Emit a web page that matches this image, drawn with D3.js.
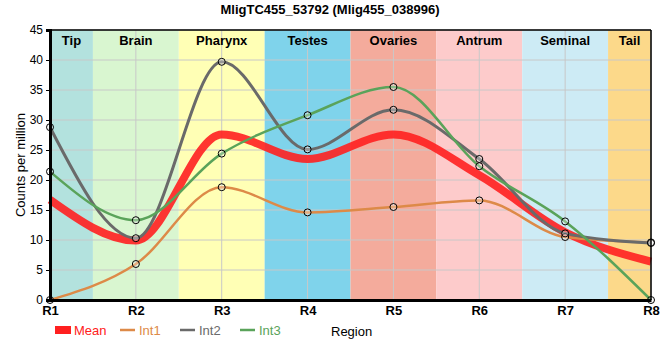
<!DOCTYPE html>
<html>
<head>
<meta charset="utf-8">
<script src="https://cdn.jsdelivr.net/npm/d3@7"></script>
<style>
  body { margin: 0; background: #fff; }
  svg { font-family: 'Liberation Sans', Arial, sans-serif; }
</style>
</head>
<body>
<svg width="660" height="360"></svg>
<script>
var regions = ['R1', 'R2', 'R3', 'R4', 'R5', 'R6', 'R7', 'R8'];
var tissues = ['Tip', 'Brain', 'Pharynx', 'Testes', 'Ovaries', 'Antrum', 'Seminal', 'Tail'];
var tissueColors = ['#b3e2de', '#d9f6d0', '#ffffb5', '#7fd3eb', '#f4ab9c', '#fdcbcb', '#cdebf5', '#fcd98a'];
var yTicks = [0, 5, 10, 15, 20, 25, 30, 35, 40, 45];

var mean = [16.7, 9.9, 27.6, 23.5, 27.6, 20.8, 11.3, 6.4];
var int1 = [0, 6.0, 18.8, 14.6, 15.5, 16.6, 10.5, 9.6];
var int2 = [28.8, 10.3, 39.7, 25.1, 31.7, 23.5, 11.1, 9.5];
var int3 = [21.4, 13.3, 24.4, 30.8, 35.5, 22.3, 13.1, 0];

var series = [
    {name: 'Mean', values: mean, color: '#ff2020', width: 8, opacity: 0.9, dots: false},
    {name: 'Int1', values: int1, color: '#dd8a48', width: 2.5, opacity: 1, dots: true},
    {name: 'Int2', values: int2, color: '#6a6a6a', width: 3, opacity: 1, dots: true},
    {name: 'Int3', values: int3, color: '#5aa35a', width: 2.5, opacity: 1, dots: true}
];

var plotLeft = 50, plotRight = 651, plotTop = 30, plotBottom = 300;
var svg = d3.select('svg');

var x = d3.scalePoint().domain(regions).range([plotLeft, plotRight]);
var y = d3.scaleLinear().domain([0, 45]).range([plotBottom, plotTop]);
var step = x.step();

function bandStart(i) { return Math.max(plotLeft, x(regions[i]) - step / 2); }
function bandEnd(i) { return Math.min(plotRight, x(regions[i]) + step / 2); }

// tissue bands
svg.selectAll('.band')
    .data(tissues)
    .enter().append('rect')
    .attr('class', 'band')
    .attr('x', function(d, i) { return bandStart(i); })
    .attr('y', plotTop)
    .attr('width', function(d, i) { return bandEnd(i) - bandStart(i); })
    .attr('height', plotBottom - plotTop)
    .attr('fill', function(d, i) { return tissueColors[i]; });

// grid
svg.selectAll('.hgrid')
    .data(yTicks)
    .enter().append('line')
    .attr('x1', plotLeft).attr('x2', plotRight)
    .attr('y1', function(d) { return y(d); })
    .attr('y2', function(d) { return y(d); })
    .attr('stroke', '#c8c8c8').attr('stroke-width', 1);

svg.selectAll('.vgrid')
    .data(regions)
    .enter().append('line')
    .attr('x1', function(d) { return x(d); })
    .attr('x2', function(d) { return x(d); })
    .attr('y1', plotTop).attr('y2', plotBottom)
    .attr('stroke', '#c8c8c8').attr('stroke-width', 1);

// band labels
svg.selectAll('.blabel')
    .data(tissues)
    .enter().append('text')
    .attr('x', function(d, i) { return (bandStart(i) + bandEnd(i)) / 2; })
    .attr('y', 45)
    .attr('text-anchor', 'middle')
    .style('font-size', '13px')
    .style('font-weight', 'bold')
    .text(function(d) { return d; });

// lines
var line = d3.line()
    .x(function(d, i) { return x(regions[i]); })
    .y(function(d) { return y(d); })
    .curve(d3.curveMonotoneX);

series.forEach(function(s) {
    svg.append('path')
        .attr('d', line(s.values))
        .attr('fill', 'none')
        .attr('stroke', s.color)
        .attr('stroke-width', s.width)
        .attr('stroke-opacity', s.opacity);
});

series.forEach(function(s) {
    if (!s.dots) return;
    svg.selectAll(null)
        .data(s.values)
        .enter().append('circle')
        .attr('cx', function(d, i) { return x(regions[i]); })
        .attr('cy', function(d) { return y(d); })
        .attr('r', 3.5)
        .attr('fill', 'rgba(255,255,255,0.3)')
        .attr('stroke', '#000')
        .attr('stroke-width', 1);
});

// frame
svg.append('line').attr('x1', plotLeft).attr('x2', plotRight).attr('y1', plotTop).attr('y2', plotTop)
    .attr('stroke', '#000').attr('stroke-width', 1.5);
svg.append('line').attr('x1', plotRight).attr('x2', plotRight).attr('y1', plotTop).attr('y2', plotBottom)
    .attr('stroke', '#000').attr('stroke-width', 1.5);

// axes
var yAxis = svg.append('g')
    .attr('transform', 'translate(' + plotLeft + ',0)')
    .call(d3.axisLeft(y).tickValues(yTicks).tickSize(4).tickPadding(3));
yAxis.select('.domain').attr('stroke-width', 3);
yAxis.selectAll('text').style('font-size', '12px').attr('fill', '#000');

var xAxis = svg.append('g')
    .attr('transform', 'translate(0,' + plotBottom + ')')
    .call(d3.axisBottom(x).tickSize(0).tickPadding(6));
xAxis.select('.domain').attr('stroke-width', 3);
xAxis.selectAll('text').style('font-size', '13px').style('font-weight', 'bold').attr('fill', '#000');

// title
svg.append('text')
    .attr('x', 330).attr('y', 14)
    .attr('text-anchor', 'middle')
    .style('font-size', '13px')
    .style('font-weight', 'bold')
    .text('MligTC455_53792 (Mlig455_038996)');

// y label
svg.append('text')
    .attr('transform', 'translate(25,165) rotate(-90)')
    .attr('text-anchor', 'middle')
    .style('font-size', '13px')
    .text('Counts per million');

// x label
svg.append('text')
    .attr('x', 331).attr('y', 336)
    .style('font-size', '13px')
    .text('Region');

// legend
var legendX = [55, 120, 180, 240];
series.forEach(function(s, i) {
    var g = svg.append('g').attr('transform', 'translate(' + legendX[i] + ',330)');
    if (s.name === 'Mean') {
        g.append('rect').attr('x', 0).attr('y', -4).attr('width', 16).attr('height', 8)
            .attr('fill', s.color);
    } else {
        g.append('line').attr('x1', 0).attr('x2', 15).attr('y1', 0).attr('y2', 0)
            .attr('stroke', s.color).attr('stroke-width', 2.5);
    }
    g.append('text')
        .attr('x', 19).attr('y', 5)
        .attr('fill', s.color)
        .style('font-size', '13px')
        .text(s.name);
});
</script>
</body>
</html>
